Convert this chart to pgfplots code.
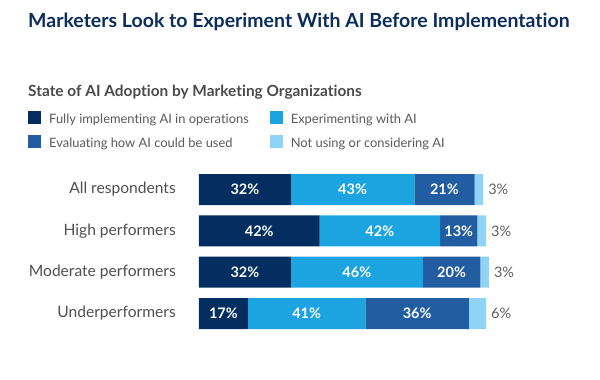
\documentclass[border=0pt]{standalone}
\usepackage{pgfplots}
\pgfplotsset{compat=1.18}
\usepackage{fontspec}
\setmainfont{Lato}[Ligatures=NoCommon]
\definecolor{cFull}{HTML}{032E5F}
\definecolor{cExp}{HTML}{1BA4DF}
\definecolor{cEval}{HTML}{215DA0}
\definecolor{cNot}{HTML}{8FD3F6}
\definecolor{titlec}{HTML}{0B2D5C}
\definecolor{subc}{HTML}{4A4A4A}
\definecolor{labc}{HTML}{4F4F4F}
\definecolor{legc}{HTML}{5A5A5A}
\definecolor{outc}{HTML}{5F5F5F}
\pgfplotsset{
  inlab/.style={nodes near coords={\pgfplotspointmeta\%},
    every node near coord/.append style={font=\bfseries\fontsize{14.5}{17}\selectfont, text=white, anchor=center}},
  outlab/.style={nodes near coords={\pgfplotspointmeta\%},
    every node near coord/.append style={font=\fontsize{14.5}{17}\selectfont, text=outc, anchor=west, inner sep=0pt, xshift=1.435pt*\pgfplotspointmeta+5pt}},
}
\begin{document}
\begin{tikzpicture}
\useasboundingbox (0pt,0pt) rectangle (600pt,-380pt);
\node[anchor=base west, inner sep=0pt, text=titlec, font=\bfseries\fontsize{19.5}{23}\selectfont] at (28pt,-27.5pt) {Marketers Look to Experiment With AI Before Implementation};
\node[anchor=base west, inner sep=0pt, text=subc, font=\bfseries\fontsize{15.4}{18}\selectfont] at (28pt,-96pt) {State of AI Adoption by Marketing Organizations};
\begin{axis}[
  at={(199pt,-329pt)}, anchor=south west,
  scale only axis, width=287pt, height=155pt,
  xbar stacked, bar width=0.75,
  xmin=0, xmax=100, ymin=-0.375, ymax=3.375,
  axis line style={draw=none},
  xtick=\empty, ytick={0,1,2,3},
  yticklabels={Underperformers,Moderate performers,High performers,All respondents},
  major tick length=0pt,
  yticklabel style={font=\fontsize{15.6}{18}\selectfont, text=labc, inner sep=0pt, xshift=-23pt},
  point meta=explicit symbolic,
  clip=false,
  legend columns=2,
  legend cell align=left,
  legend image code/.code={\fill[#1] (0pt,-3pt) rectangle (13pt,10pt);},
  legend style={at={(-0.5958,1.41)}, anchor=north west, draw=none, fill=none, inner sep=0pt,
    font=\fontsize{12.9}{15}\selectfont, text=legc,
    nodes={inner sep=0pt, text height=9pt, text depth=3pt},
    /tikz/every odd column/.append style={column sep=8pt},
    /tikz/every even column/.append style={column sep=21pt},
    row sep=8pt},
]
\addplot[fill=cFull, draw=none, inlab] coordinates {(17,0)[17] (32,1)[32] (42,2)[42] (32,3)[32]};
\addplot[fill=cExp, draw=none, inlab] coordinates {(41,0)[41] (46,1)[46] (42,2)[42] (43,3)[43]};
\addplot[fill=cEval, draw=none, inlab] coordinates {(36,0)[36] (20,1)[20] (13,2)[13] (21,3)[21]};
\addplot[fill=cNot, draw=none, outlab] coordinates {(6,0)[6] (3,1)[3] (3,2)[3] (3,3)[3]};
\legend{Fully implementing AI in operations, Experimenting with AI, Evaluating how AI could be used, Not using or considering AI}
\end{axis}
\end{tikzpicture}
\end{document}
